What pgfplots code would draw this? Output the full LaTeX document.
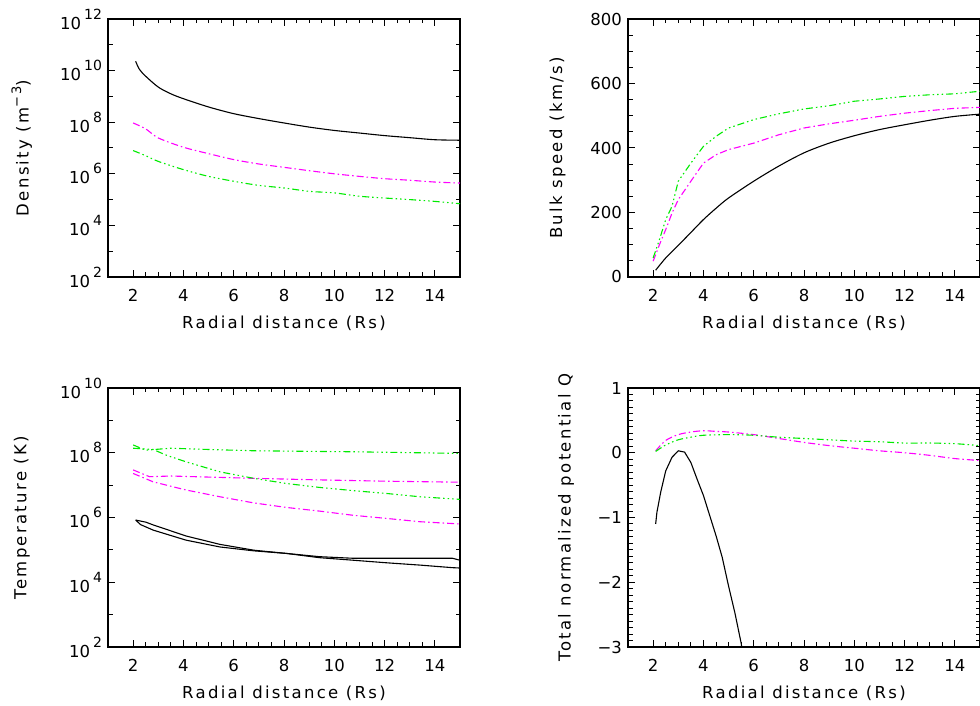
\documentclass[border=0pt]{standalone}
\usepackage{fontspec}
\setmainfont{DejaVu Sans}
\newfontfamily\lblfont{DejaVu Sans}[LetterSpace=14]
\usepackage{pgfplots}
\pgfplotsset{compat=1.18}

\definecolor{idlmag}{RGB}{255,0,255}
\definecolor{idlgrn}{RGB}{0,235,0}

% IDL style power-of-ten label
\newcommand\ex[1]{10\hspace{3pt}\raisebox{0.6em}{\fontsize{14}{14}\selectfont #1}}

\pgfplotsset{
  idl/.style={
    scale only axis, width=352pt, height=258pt,
    xmin=1, xmax=15, xtick={2,4,...,14}, xticklabels={2,4,6,8,10,12,14},
    minor x tick num=3,
    tick align=inside, major tick length=7pt, minor tick length=4.5pt,
    axis line style={line width=1.2pt},
    tick style={black, line width=1pt},
    tick label style={font=\fontsize{16.5}{18}\selectfont},
    label style={font=\lblfont\fontsize{16.5}{18}\selectfont},
    xlabel={Radial distance (Rs)},
    xlabel style={at={(axis description cs:0.5,-0.178)}, anchor=center},
    xticklabel style={yshift=-9pt},
    yticklabel style={xshift=-2.5pt},
  },
  blk/.style={black, line width=1.1pt},
  mag/.style={idlmag, line width=1.1pt, dash pattern=on 7pt off 3pt on 1.5pt off 3pt},
  grn/.style={idlgrn, line width=1.1pt, dash pattern=on 7pt off 3pt on 1.5pt off 3pt on 1.5pt off 3pt on 1.5pt off 3pt},
}

\begin{document}
\begin{tikzpicture}
\useasboundingbox (0,0) rectangle (980pt,706pt);

% ---------------- density
\begin{axis}[idl, at={(108pt,429pt)}, anchor=south west,
  ymode=log, ymin=1e2, ymax=1e12,
  ytick={1e2,1e4,1e6,1e8,1e10,1e12},
  yticklabels={\ex{2},\ex{4},\ex{6},\ex{8},\ex{10},\ex{12}},
  minor ytick={1e3,1e5,1e7,1e9,1e11},
  ylabel={Density (m\raisebox{0.45em}{\fontsize{13}{13}\selectfont −3})},
  ylabel style={at={(axis description cs:-0.245,0.5)}, anchor=center},
]
\addplot[blk, smooth] coordinates {
  (2.1,2.29e10) (2.25,1.12e10) (2.5,6.03e9) (3,2.29e9) (3.5,1.26e9) (4,8.13e8)
  (5,3.89e8) (6,2.14e8) (7,1.38e8) (8,9.33e7) (9,6.46e7) (10,4.79e7)
  (11,3.80e7) (12,3.02e7) (13,2.51e7) (14,2.09e7) (15,2.00e7)
};
\addplot[mag, smooth] coordinates {
  (2,9.33e7) (2.5,5.50e7) (3,2.45e7) (4,1.07e7) (5,6.03e6) (6,3.55e6)
  (7,2.40e6) (8,1.78e6) (9,1.32e6) (10,1.00e6) (11,7.94e5) (12,6.46e5)
  (13,5.62e5) (14,4.79e5) (15,4.37e5)
};
\addplot[grn, smooth] coordinates {
  (2,7.94e6) (2.5,5.01e6) (3,3.02e6) (4,1.45e6) (5,7.94e5) (6,5.13e5)
  (7,3.55e5) (8,2.82e5) (9,2.09e5) (10,1.82e5) (11,1.35e5) (12,1.15e5)
  (13,1.00e5) (14,8.51e4) (15,6.92e4)
};
\end{axis}

% ---------------- bulk speed
\begin{axis}[idl, at={(628pt,429pt)}, anchor=south west,
  ymin=0, ymax=800, ytick={0,200,...,800}, yticklabels={0,200,400,600,800},
  minor y tick num=3,
  ylabel={Bulk speed (km/s)},
  ylabel style={at={(axis description cs:-0.20,0.5)}, anchor=center},
]
\addplot[blk, smooth] coordinates {
  (2.1,21) (2.5,59) (3,98) (3.5,138) (4,178) (4.5,213) (5,245) (6,297)
  (7,344) (8,385) (9,415) (10,438) (11,457) (12,472) (13,486) (14,498) (15,505)
};
\addplot[mag] coordinates {
  (2,49) (2.25,100) (2.5,147) (2.75,198) (3,240) (3.5,297) (4,353) (4.5,379)
  (5,395) (6,415) (7,441) (8,462) (9,475) (10,486) (11,498) (12,508)
  (13,516) (14,523) (15,526)
};
\addplot[grn] coordinates {
  (2,59) (2.25,116) (2.5,178) (2.75,219) (3,297) (3.5,353) (4,405) (4.5,436)
  (5,462) (6,488) (7,506) (8,521) (9,531) (10,545) (11,552) (12,560)
  (13,565) (14,568) (15,576)
};
\end{axis}

% ---------------- temperature
\begin{axis}[idl, at={(108pt,59pt)}, anchor=south west, height=259pt,
  ymode=log, ymin=1e2, ymax=1e10,
  ytick={1e2,1e4,1e6,1e8,1e10},
  yticklabels={\ex{2},\ex{4},\ex{6},\ex{8},\ex{10}},
  minor ytick={1e3,1e5,1e7,1e9},
  ylabel={Temperature (K)},
  ylabel style={at={(axis description cs:-0.245,0.5)}, anchor=center},
]
\addplot[blk] coordinates {
  (2.1,8.32e5) (2.5,7.2e5) (2.8,5.89e5) (4.1,2.69e5) (5.45,1.48e5) (6.8,9.77e4)
  (8.1,7.76e4) (9.4,6.17e4) (10.75,5.50e4) (12.1,5.50e4) (14.7,5.50e4) (15,4.79e4)
};
\addplot[blk] coordinates {
  (2.1,8.32e5) (2.3,6.0e5) (2.8,4.07e5) (4.1,2.00e5) (5.45,1.23e5) (6.8,9.33e4)
  (8.1,7.76e4) (9.4,5.75e4) (10.75,4.79e4) (12.1,3.98e4) (13.4,3.39e4)
  (14.7,2.82e4) (15,2.75e4)
};
\addplot[mag] coordinates {
  (2,2.95e7) (2.65,1.82e7) (3.5,1.91e7) (6.8,1.62e7) (9.4,1.45e7)
  (12.1,1.32e7) (15,1.23e7)
};
\addplot[mag] coordinates {
  (2,2.29e7) (2.8,1.26e7) (4.1,7.08e6) (5.45,4.37e6) (6.8,2.82e6)
  (8.1,2.04e6) (9.4,1.58e6) (10.75,1.17e6) (12.1,9.33e5) (13.4,7.41e5) (15,6.31e5)
};
\addplot[grn] coordinates {
  (2,1.74e8) (2.5,1.20e8) (3.5,1.38e8) (5,1.26e8) (6.8,1.15e8)
  (10.8,1.07e8) (15,9.55e7)
};
\addplot[grn] coordinates {
  (2,1.38e8) (2.8,1.26e8) (3.3,8.51e7) (4.1,5.25e7) (5.45,2.57e7)
  (6.8,1.62e7) (8.1,1.12e7) (9.4,8.51e6) (10.75,6.76e6) (12.1,5.50e6)
  (13.4,4.37e6) (15,3.63e6)
};
\end{axis}

% ---------------- potential
\begin{axis}[idl, at={(628pt,59pt)}, anchor=south west, height=259pt,
  ymin=-3, ymax=1, ytick={-3,-2,-1,0,1}, yticklabels={−3,−2,−1,0,1},
  minor y tick num=9,
  ylabel={Total normalized potential Q},
  ylabel style={at={(axis description cs:-0.176,0.5)}, anchor=center},
]
\addplot[blk] coordinates {
  (2.1,-1.10) (2.15,-0.92) (2.3,-0.61) (2.5,-0.28) (2.75,-0.07) (3,0.03)
  (3.25,0.01) (3.5,-0.15) (3.75,-0.41) (4,-0.66) (4.25,-0.97) (4.5,-1.28)
  (4.75,-1.62) (5,-2.06) (5.25,-2.47) (5.5,-2.94) (5.6,-3.2)
};
\addplot[mag, smooth] coordinates {
  (2.1,0.03) (2.5,0.19) (3,0.28) (3.5,0.32) (4,0.34) (4.5,0.33) (5,0.32)
  (6,0.28) (7,0.22) (8,0.16) (9,0.11) (10,0.07) (11,0.03) (12,0.0)
  (13,-0.04) (14,-0.09) (15,-0.12)
};
\addplot[grn, smooth] coordinates {
  (2.1,0.02) (2.5,0.12) (3,0.20) (3.5,0.24) (4,0.27) (5,0.28) (6,0.27)
  (7,0.24) (8,0.22) (9,0.20) (10,0.18) (11,0.17) (12,0.15) (13,0.15)
  (14,0.14) (15,0.11)
};
\end{axis}
\end{tikzpicture}
\end{document}
